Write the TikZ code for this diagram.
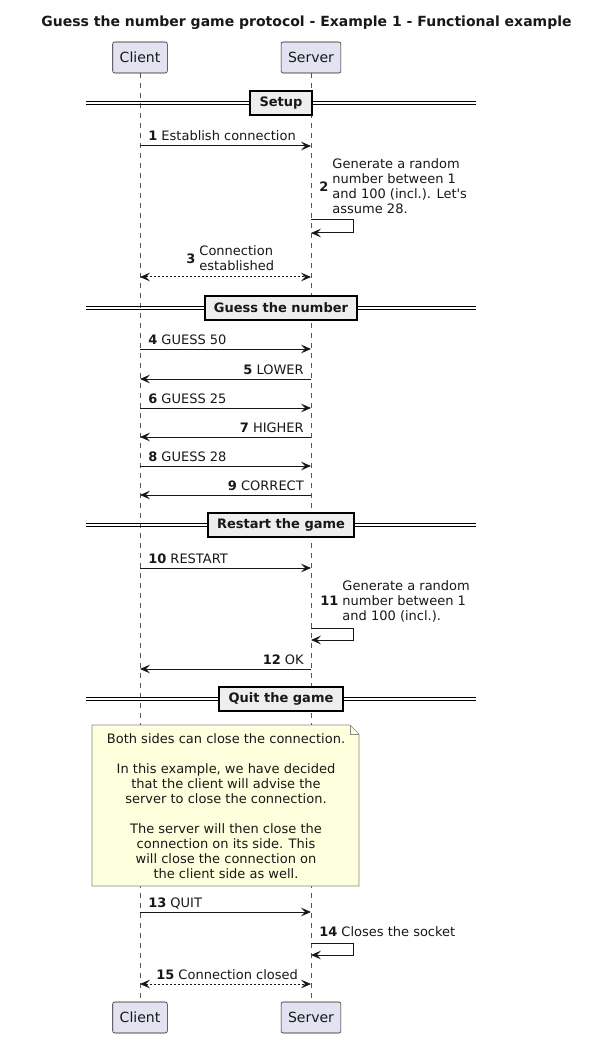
\documentclass[tikz,border=0pt]{standalone}
\usepackage{fontspec}
\setmainfont{DejaVu Sans}[Ligatures=TeXOff]
\usetikzlibrary{arrows.meta}
\definecolor{ln}{HTML}{181818}
\definecolor{lifec}{HTML}{555555}
\definecolor{partfill}{HTML}{E2E2F0}
\definecolor{sepfill}{HTML}{EEEEEE}
\definecolor{notefill}{HTML}{FEFFDD}
\definecolor{noteline}{HTML}{888888}
\begin{document}
\begin{tikzpicture}[x=0.75pt,y=-0.75pt,
  every node/.style={font=\fontsize{9.75pt}{11.25pt}\selectfont, text=ln},
  part/.style={draw=ln, line width=0.4pt, fill=partfill, rounded corners=1.5pt,
    minimum height=23.25pt, inner xsep=5.25pt, font=\fontsize{10.5pt}{12pt}\selectfont},
  life/.style={draw=lifec, line width=0.4pt, dash pattern=on 3.75pt off 3.75pt},
  msg/.style={draw=ln, line width=0.75pt, -{Stealth[length=7.5pt,width=6.5pt,inset=3pt]}},
  reply/.style={draw=ln, line width=0.75pt, dash pattern=on 1.5pt off 1.5pt,
    {Stealth[length=7.5pt,width=6.5pt,inset=3pt]}-{Stealth[length=7.5pt,width=6.5pt,inset=3pt]}},
  lbl/.style={inner sep=0pt},
  sepbox/.style={draw=black, line width=1.5pt, fill=sepfill, minimum height=18pt,
    inner xsep=7pt, font=\bfseries\fontsize{9.75pt}{11.25pt}\selectfont},
  sepline/.style={draw=black, line width=0.75pt},
  notebox/.style={draw=noteline, line width=0.5pt, fill=notefill},
]
\useasboundingbox (0,0) rectangle (589,1037);
\fill[white] (0,0) rectangle (589,1037);

% title
\node[font=\bfseries\fontsize{10.5pt}{12pt}\selectfont] (title) at (306.5,23)
  {Guess the number game protocol - Example 1 - Functional example};

% participants
\node[part] (cT) at (140,57.5) {Client};
\node[part] (sT) at (311,57.5) {Server};
\node[part] (cB) at (140,1017.5) {Client};
\node[part] (sB) at (311,1017.5) {Server};
\draw[life] (cT) -- (cB);
\draw[life] (sT) -- (sB);

% message anchor points
\coordinate (c1) at (140,146);   \coordinate (s1) at (311,146);
\coordinate (s2a) at (311,220);  \coordinate (s2b) at (311,233);
\coordinate (c3) at (140,277);   \coordinate (s3) at (311,277);
\coordinate (c4) at (140,349);   \coordinate (s4) at (311,349);
\coordinate (c5) at (140,379);   \coordinate (s5) at (311,379);
\coordinate (c6) at (140,408);   \coordinate (s6) at (311,408);
\coordinate (c7) at (140,437);   \coordinate (s7) at (311,437);
\coordinate (c8) at (140,466);   \coordinate (s8) at (311,466);
\coordinate (c9) at (140,495);   \coordinate (s9) at (311,495);
\coordinate (c10) at (140,568);  \coordinate (s10) at (311,568);
\coordinate (s11a) at (311,628); \coordinate (s11b) at (311,640);
\coordinate (c12) at (140,669);  \coordinate (s12) at (311,669);
\coordinate (c13) at (140,912);  \coordinate (s13) at (311,912);
\coordinate (s14a) at (311,943); \coordinate (s14b) at (311,955);
\coordinate (c15) at (140,984);  \coordinate (s15) at (311,984);

% separators
\draw[sepline] (86,102) -- (476,102) (86,105) -- (476,105);
\node[sepbox] (sep1) at (281,103.5) {Setup};
\draw[sepline] (86,306.5) -- (476,306.5) (86,309.5) -- (476,309.5);
\node[sepbox] (sep2) at (281,308) {Guess the number};
\draw[sepline] (86,523.5) -- (476,523.5) (86,526.5) -- (476,526.5);
\node[sepbox] (sep3) at (281,525) {Restart the game};
\draw[sepline] (86,697.5) -- (476,697.5) (86,700.5) -- (476,700.5);
\node[sepbox] (sep4) at (281,699) {Quit the game};

% Setup
\draw[msg] (c1) -- (s1);
\node[lbl, anchor=base west] (l1) at (148,141) {\textbf{1} Establish connection};
\draw[msg] (s2a) -- ++(42,0) |- (s2b);
\node[lbl, anchor=west] (l2) at (319,188.5) {\textbf{2} \begin{tabular}[c]{@{}l@{}}Generate a random\\number between 1\\and 100 (incl.). Let's\\assume 28.\end{tabular}};
\draw[reply] (c3) -- (s3);
\node[lbl, anchor=west] (l3) at (186,260.5) {\textbf{3} \begin{tabular}[c]{@{}l@{}}Connection\\established\end{tabular}};

% Guess the number
\draw[msg] (c4) -- (s4);
\node[lbl, anchor=base west] (l4) at (148,344) {\textbf{4} GUESS 50};
\draw[msg] (s5) -- (c5);
\node[lbl, anchor=base east] (l5) at (304,374) {\textbf{5} LOWER};
\draw[msg] (c6) -- (s6);
\node[lbl, anchor=base west] (l6) at (148,403) {\textbf{6} GUESS 25};
\draw[msg] (s7) -- (c7);
\node[lbl, anchor=base east] (l7) at (304,432) {\textbf{7} HIGHER};
\draw[msg] (c8) -- (s8);
\node[lbl, anchor=base west] (l8) at (148,461) {\textbf{8} GUESS 28};
\draw[msg] (s9) -- (c9);
\node[lbl, anchor=base east] (l9) at (304,490) {\textbf{9} CORRECT};

% Restart
\draw[msg] (c10) -- (s10);
\node[lbl, anchor=base west] (l10) at (148,563) {\textbf{10} RESTART};
\draw[msg] (s11a) -- ++(42,0) |- (s11b);
\node[lbl, anchor=west] (l11) at (320,602.5) {\textbf{11} \begin{tabular}[c]{@{}l@{}}Generate a random\\number between 1\\and 100 (incl.).\end{tabular}};
\draw[msg] (s12) -- (c12);
\node[lbl, anchor=base east] (l12) at (304,664) {\textbf{12} OK};

% Quit: note
\draw[notebox] (92,725) -- (350,725) -- (359,734) -- (359,886) -- (92,886) -- cycle;
\draw[notebox, fill=none] (350,725) -- (350,734) -- (359,734);
\node[lbl, align=center] (note) at (226,806) {Both sides can close the connection.\\[11.25pt]In this example, we have decided\\that the client will advise the\\server to close the connection.\\[11.25pt]The server will then close the\\connection on its side. This\\will close the connection on\\the client side as well.};

\draw[msg] (c13) -- (s13);
\node[lbl, anchor=base west] (l13) at (148,907) {\textbf{13} QUIT};
\draw[msg] (s14a) -- ++(42,0) |- (s14b);
\node[lbl, anchor=base west] (l14) at (319,936.5) {\textbf{14} Closes the socket};
\draw[reply] (c15) -- (s15);
\node[lbl, anchor=base west] (l15) at (156,979) {\textbf{15} Connection closed};
\end{tikzpicture}
\end{document}
